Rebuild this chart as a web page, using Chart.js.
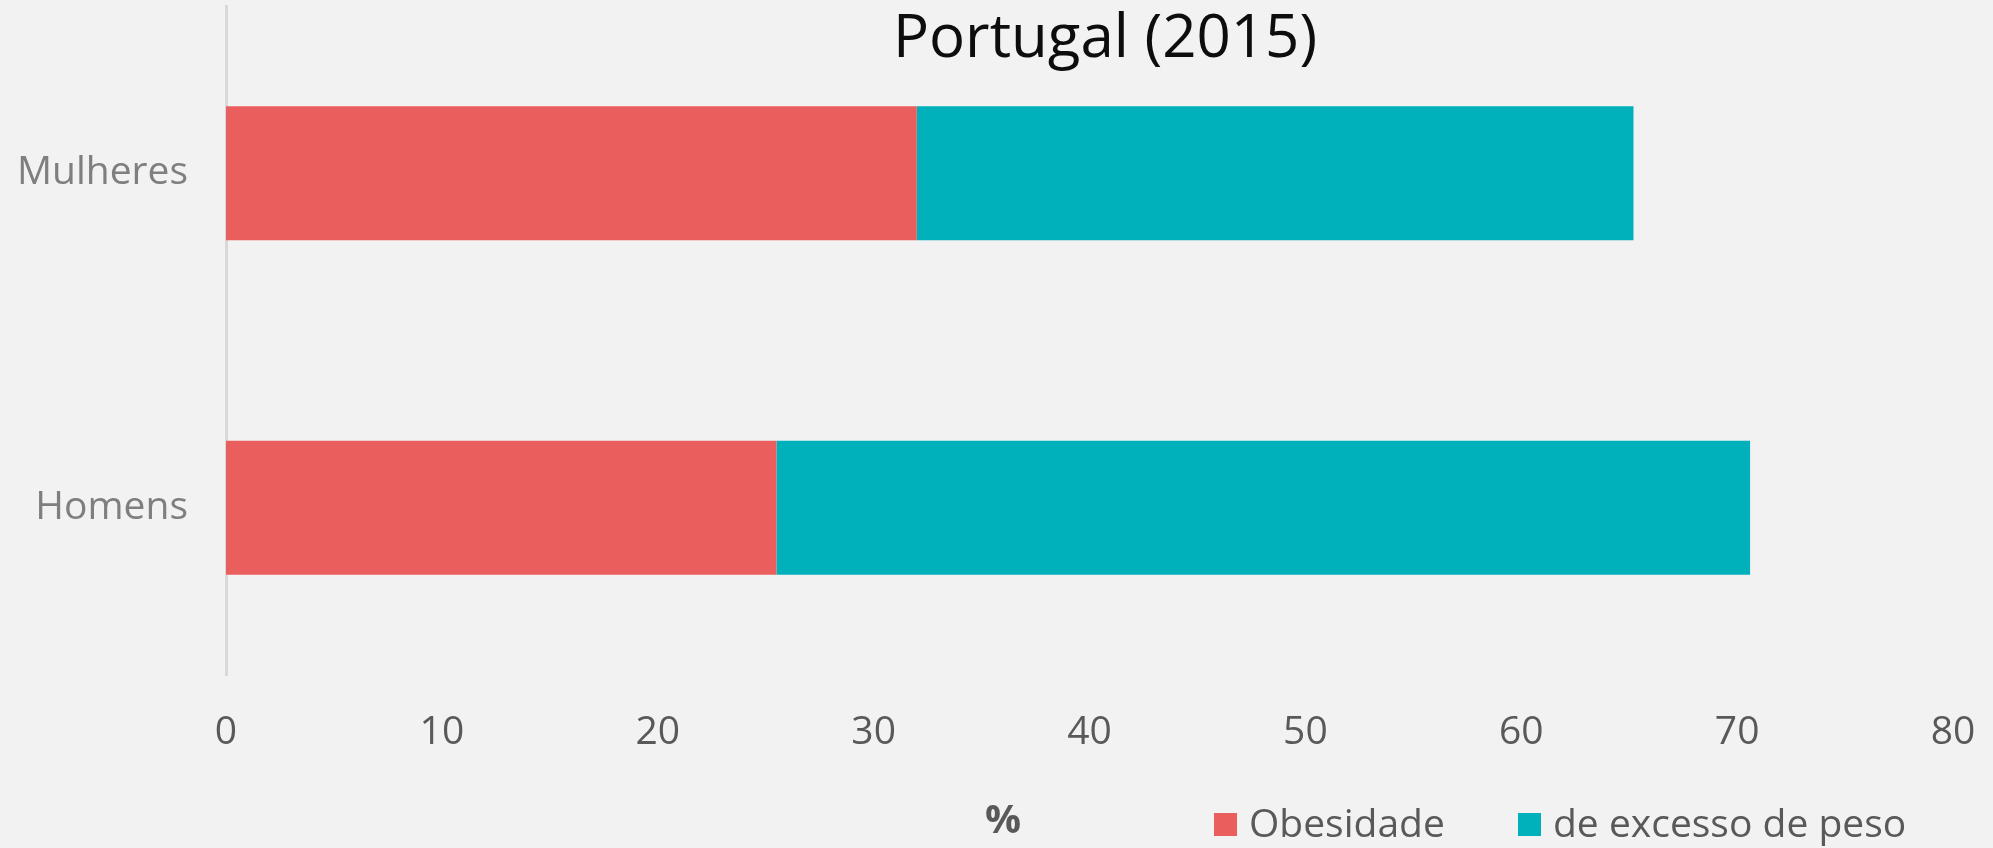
<!DOCTYPE html>
<html><head><meta charset="utf-8">
<script src="https://cdn.jsdelivr.net/npm/chart.js@4.4.1/dist/chart.umd.min.js"></script>
<style>html,body{margin:0;padding:0;background:#f2f2f2;}</style>
</head><body>
<canvas id="c" width="1993" height="848"></canvas>
<script>
const categories = ['Mulheres', 'Homens'];
const obesidade = [32.0, 25.5];
const excessoPeso = [33.2, 45.1];
const xTicks = [0, 10, 20, 30, 40, 50, 60, 70, 80];
const seriesNames = ['Obesidade', 'de excesso de peso'];
const seriesColors = ['#eb5e5e', '#00b1bc'];
const titleText = 'Portugal (2015)';
const axisTitle = '%';

const FONT = '"Open Sans", "DejaVu Sans", sans-serif';

const overlay = {
  id: 'overlay',
  afterDraw(chart) {
    const ctx = chart.ctx;
    ctx.save();
    ctx.textBaseline = 'alphabetic';
    ctx.textAlign = 'center';
    ctx.fillStyle = '#0d0d0d';
    ctx.font = '60px ' + FONT;
    ctx.fillText(titleText, 1105, 57);
    ctx.fillStyle = '#595959';
    ctx.font = 'bold 40px ' + FONT;
    ctx.fillText(axisTitle, 1003, 833);
    ctx.font = '39px ' + FONT;
    ctx.textAlign = 'left';
    const starts = [1214, 1518];
    chart.data.datasets.forEach((ds, i) => {
      const x = starts[i];
      ctx.fillStyle = ds.backgroundColor;
      ctx.fillRect(x, 813, 23, 23);
      ctx.fillStyle = '#595959';
      ctx.fillText(ds.label, x + 35, 837);
    });
    ctx.restore();
  }
};

new Chart(document.getElementById('c'), {
  type: 'bar',
  data: {
    labels: categories,
    datasets: [
      { label: seriesNames[0], data: obesidade, backgroundColor: seriesColors[0] },
      { label: seriesNames[1], data: excessoPeso, backgroundColor: seriesColors[1] }
    ]
  },
  options: {
    indexAxis: 'y',
    responsive: false,
    animation: false,
    devicePixelRatio: 1,
    layout: { padding: { top: 6, right: 40, bottom: 0, left: 0 } },
    datasets: { bar: { categoryPercentage: 1, barPercentage: 0.40, borderWidth: 0 } },
    plugins: { legend: { display: false }, title: { display: false }, tooltip: { enabled: false } },
    scales: {
      x: {
        stacked: true, min: 0, max: 80,
        grid: { display: false, drawTicks: false },
        border: { display: false },
        afterBuildTicks: s => { s.ticks = xTicks.map(v => ({ value: v })); },
        afterFit: s => { s.height = 173; s.paddingLeft = 0; s.paddingRight = 0; },
        ticks: { padding: 34, color: '#595959', font: { family: FONT, size: 39 }, maxRotation: 0 }
      },
      y: {
        stacked: true,
        grid: { display: false, drawTicks: false },
        border: { display: true, color: '#d9d9d9', width: 3 },
        afterFit: s => { s.width = 226; s.paddingTop = 0; s.paddingBottom = 0; },
        ticks: { padding: 38, color: '#7f7f7f', font: { family: FONT, size: 39 } }
      }
    }
  },
  plugins: [overlay]
});
</script>
</body></html>
